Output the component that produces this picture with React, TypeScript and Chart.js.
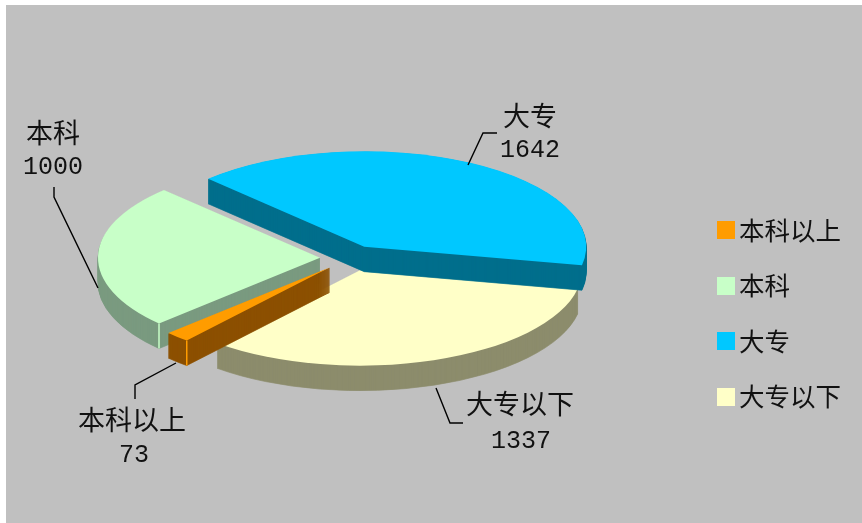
import React, { useEffect, useRef } from "react";
import { Chart, registerables } from "chart.js";

Chart.register(...registerables);

// ---- data ----
const categories = ["本科以上", "本科", "大专", "大专以下"];
const values = [73, 1000, 1642, 1337];
const topColors = ["#FF9C00", "#C8FFC8", "#00C8FF", "#FFFFC8"];
const wallColors = ["#8C5000", "#7A9A80", "#006E8C", "#8C8C6C"];

// ---- layout / style ----
const WIDTH = 862;
const HEIGHT = 523;
const PANEL_X = 6;
const PANEL_Y = 5;
const PIE_X = 350;
const PIE_Y = 258;
const RADIUS = 222;
const SQUASH = 0.43;
const EXPLODE = 30;
const DEPTH = 25;
const PAINT_ORDER = [1, 3, 0, 2];
const CORNER_HIGHLIGHT = [0, 1];
const CJK = '"Noto Sans CJK SC", sans-serif';
const DIGITS = '"Liberation Mono", monospace';

const callouts = [
  { name: [132, 420], num: [134, 455], line: [[135, 399], [135, 385], [176, 363]] },
  { name: [53, 133], num: [53, 167], line: [[54, 187], [54, 197], [98, 288]] },
  { name: [530, 116], num: [530, 150], line: [[497, 133], [483, 133], [468, 165]] },
  { name: [520, 404], num: [521, 441], line: [[436, 388], [450, 423], [463, 423]] },
];

function swatch(color: string) {
  const c = document.createElement("canvas");
  c.width = 18;
  c.height = 18;
  const x = c.getContext("2d")!;
  x.fillStyle = color;
  x.fillRect(0, 0, 18, 18);
  return c;
}

const panelPlugin = {
  id: "panel",
  beforeDraw(chart: any) {
    const { ctx } = chart;
    ctx.save();
    ctx.fillStyle = "#FFFFFF";
    ctx.fillRect(0, 0, WIDTH, HEIGHT);
    ctx.fillStyle = "#C0C0C0";
    ctx.fillRect(PANEL_X, PANEL_Y, WIDTH - PANEL_X, HEIGHT - PANEL_Y);
    ctx.restore();
  },
};

const pie3dPlugin = {
  id: "pie3d",
  beforeDatasetsDraw(chart: any) {
    const { ctx } = chart;
    const arcs = chart.getDatasetMeta(0).data;
    for (const i of PAINT_ORDER) {
      const arc = arcs[i];
      const mid = (arc.startAngle + arc.endAngle) / 2;
      const ex = Math.cos(mid) * EXPLODE;
      const ey = Math.sin(mid) * EXPLODE;
      const wall = Object.create(arc);
      wall.options = {
        ...arc.options,
        backgroundColor: wallColors[i],
        borderColor: wallColors[i],
        borderWidth: 1,
      };
      for (let d = DEPTH; d >= 0; d--) {
        ctx.save();
        ctx.translate(PIE_X, PIE_Y + d);
        ctx.scale(1, SQUASH);
        ctx.translate(ex - arc.x, ey - arc.y);
        (d === 0 ? arc : wall).draw(ctx);
        ctx.restore();
      }
      if (CORNER_HIGHLIGHT.includes(i)) {
        const cx = PIE_X + ex + Math.cos(arc.startAngle) * RADIUS;
        const cy = PIE_Y + (ey + Math.sin(arc.startAngle) * RADIUS) * SQUASH;
        ctx.save();
        ctx.strokeStyle = topColors[i];
        ctx.lineWidth = 1.5;
        ctx.beginPath();
        ctx.moveTo(cx, cy);
        ctx.lineTo(cx, cy + DEPTH);
        ctx.stroke();
        ctx.restore();
      }
    }
    return false;
  },
  afterDraw(chart: any) {
    const { ctx } = chart;
    ctx.save();
    ctx.strokeStyle = "#000000";
    ctx.lineWidth = 1.4;
    ctx.fillStyle = "#111111";
    ctx.textAlign = "center";
    ctx.textBaseline = "middle";
    callouts.forEach((c, i) => {
      ctx.beginPath();
      c.line.forEach(([x, y], k) => (k ? ctx.lineTo(x, y) : ctx.moveTo(x, y)));
      ctx.stroke();
      ctx.font = `27px ${CJK}`;
      ctx.fillText(categories[i], c.name[0], c.name[1]);
      ctx.font = `25px ${DIGITS}`;
      ctx.fillText(String(values[i]), c.num[0], c.num[1]);
    });
    ctx.restore();
  },
};

export default function App() {
  const ref = useRef<HTMLCanvasElement>(null);
  useEffect(() => {
    const chart = new Chart(ref.current!, {
      type: "pie",
      data: {
        labels: categories,
        datasets: [
          {
            data: values,
            backgroundColor: topColors,
            borderWidth: 0,
            radius: RADIUS,
          } as any,
        ],
      },
      options: {
        responsive: false,
        animation: false,
        events: [],
        rotation: -140,
        layout: { padding: { top: 104, bottom: 0, right: 11, left: 0 } },
        plugins: {
          tooltip: { enabled: false },
          legend: {
            position: "right",
            labels: {
              usePointStyle: true,
              boxWidth: 0.01,
              boxHeight: 18,
              padding: 30,
              color: "#111111",
              font: { family: CJK, size: 25.5 },
              generateLabels: () =>
                categories.map((text, i) => ({
                  text,
                  index: i,
                  hidden: false,
                  lineWidth: 0,
                  fontColor: "#111111",
                  fillStyle: topColors[i],
                  strokeStyle: topColors[i],
                  pointStyle: swatch(topColors[i]) as any,
                })),
            },
          },
        },
      },
      plugins: [panelPlugin, pie3dPlugin],
    } as any);
    return () => chart.destroy();
  }, []);
  return (
    <div style={{ position: "absolute", left: 0, top: 0, width: WIDTH, height: HEIGHT }}>
      <canvas ref={ref} width={WIDTH} height={HEIGHT} style={{ display: "block" }} />
    </div>
  );
}
